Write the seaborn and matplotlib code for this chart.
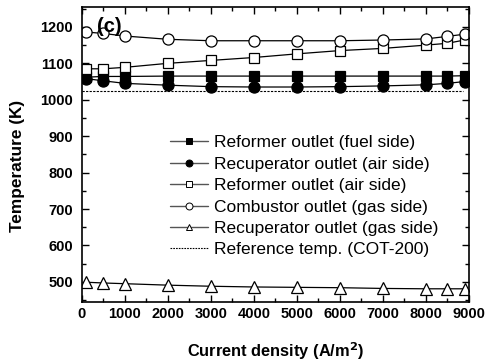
import matplotlib
matplotlib.use("Agg")
import matplotlib.pyplot as plt
import seaborn as sns
import pandas as pd
from matplotlib.ticker import MultipleLocator
from matplotlib.lines import Line2D

current = [100, 500, 1000, 2000, 3000, 4000, 5000, 6000, 7000, 8000, 8500, 8900]
reformer_fuel = [1062, 1064, 1064, 1065, 1065, 1065, 1065, 1065, 1065, 1065, 1065, 1066]
recup_air = [1058, 1052, 1045, 1040, 1036, 1035, 1035, 1036, 1038, 1041, 1045, 1050]
reformer_air = [1085, 1085, 1089, 1100, 1108, 1116, 1126, 1135, 1141, 1150, 1155, 1164]
combustor_gas = [1186, 1182, 1175, 1166, 1162, 1162, 1162, 1162, 1164, 1167, 1174, 1180]
recup_gas = [499, 497, 495, 491, 488, 486, 485, 484, 482, 481, 481, 481]
reference_temp = 1025

labels = ["Reformer outlet (fuel side)", "Recuperator outlet (air side)",
          "Reformer outlet (air side)", "Combustor outlet (gas side)",
          "Recuperator outlet (gas side)", "Reference temp. (COT-200)"]
x_ticks = [0, 1000, 2000, 3000, 4000, 5000, 6000, 7000, 8000, 9000]
y_ticks = [500, 600, 700, 800, 900, 1000, 1100, 1200]

sns.set_theme(style="ticks")
plt.rcParams['font.family'] = ['Liberation Sans', 'DejaVu Sans']
plt.rcParams.update({'text.color': 'black', 'axes.labelcolor': 'black',
                     'xtick.color': 'black', 'ytick.color': 'black'})

fig = plt.figure(figsize=(4.93, 3.62), dpi=100)
ax = fig.add_axes([0.166, 0.166, 0.785, 0.815])

series = [(reformer_fuel, 's', 'black'), (recup_air, 'o', 'black'),
          (reformer_air, 's', 'white'), (combustor_gas, 'o', 'white'),
          (recup_gas, '^', 'white')]
handles = []
for vals, mk, fc in series:
    df = pd.DataFrame({"x": current, "y": vals})
    sns.lineplot(data=df, x="x", y="y", ax=ax, color='black', lw=0.9,
                 marker=mk, markersize=8 if mk != 's' else 7.5,
                 markerfacecolor=fc, markeredgecolor='black', markeredgewidth=0.9)
    handles.append(Line2D([], [], color='#555555', lw=1.0, marker=mk, markersize=5,
                          markerfacecolor=fc, markeredgecolor='black', markeredgewidth=0.7))
ax.axhline(reference_temp, color='black', lw=0.8, ls=(0, (2, 1.2)), xmin=0.0, xmax=0.985)
handles.append(Line2D([], [], color='black', lw=0.8, ls=(0, (1.5, 1))))

ax.set_xlim(0, 9000)
ax.set_ylim(445, 1255)
ax.set_xticks(x_ticks)
ax.set_yticks(y_ticks)
ax.xaxis.set_minor_locator(MultipleLocator(500))
ax.yaxis.set_minor_locator(MultipleLocator(50))
ax.tick_params(which='both', direction='in', top=True, right=True, labeltop=False,
               labelright=False, width=1.0, colors='black')
ax.tick_params(which='major', length=5, labelsize=10.5)
ax.tick_params(which='minor', length=3)
ax.tick_params(axis='x', which='major', pad=4)
ax.tick_params(axis='y', which='major', pad=6.5)
for lab in ax.get_xticklabels() + ax.get_yticklabels():
    lab.set_fontweight('bold')
for sp in ax.spines.values():
    sp.set_linewidth(1.2)
    sp.set_color('black')

ax.set_xlabel("Current density (A/m$^\\mathbf{2}$)", fontsize=11.8, fontweight='bold')
ax.xaxis.set_label_coords(0.5, -0.130)
ax.xaxis.label.set_va('top')
ax.set_ylabel("Temperature (K)", fontsize=12.4, fontweight='bold')
ax.yaxis.set_label_coords(-0.147, 0.461)
ax.text(0.039, 0.965, "(c)", transform=ax.transAxes, fontsize=14.5, fontweight='bold',
        va='top', ha='left')

leg = ax.legend(handles, labels, loc='upper left', bbox_to_anchor=(0.227, 0.565),
                frameon=False, fontsize=12.5, handlelength=2.18, handletextpad=0.4,
                labelspacing=0.36, borderaxespad=0, borderpad=0)

fig.savefig("out.png", dpi=100)
